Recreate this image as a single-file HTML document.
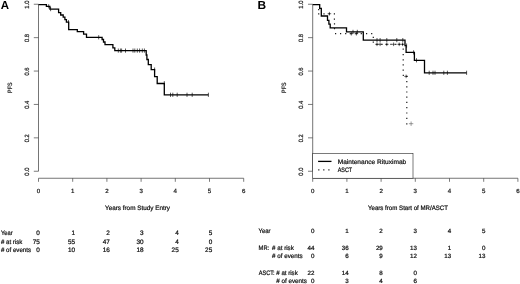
<!DOCTYPE html>
<html lang="en">
<head>
<meta charset="utf-8">
<title>PFS Kaplan-Meier curves</title>
<style>
html,body{margin:0;padding:0;background:#fff;}
body{width:520px;height:284px;overflow:hidden;}
svg{display:block;font-family:'Liberation Sans', sans-serif;text-rendering:geometricPrecision;}
</style>
</head>
<body>
<svg width="520" height="284" viewBox="0 0 520 284">
<rect width="520" height="284" fill="#fff"/>
<text x="0.7" y="8.9" font-size="11.6" textLength="8.3" lengthAdjust="spacingAndGlyphs" font-weight="bold" fill="#000">A</text>
<path d="M38.5,4.25V171.25" stroke="#3a3a3a" stroke-width="0.7" fill="none"/>
<path d="M33.80,171.25H38.5M33.80,137.85H38.5M33.80,104.45H38.5M33.80,71.05H38.5M33.80,37.65H38.5M33.80,4.25H38.5" stroke="#444" stroke-width="0.7" fill="none"/>
<path d="M38.5,178.25H243.70" stroke="#3a3a3a" stroke-width="0.7" fill="none"/>
<path d="M38.50,178.25V181.8M72.70,178.25V181.8M106.90,178.25V181.8M141.10,178.25V181.8M175.30,178.25V181.8M209.50,178.25V181.8M243.70,178.25V181.8" stroke="#444" stroke-width="0.7" fill="none"/>
<text x="28.7" y="171.65" font-size="6.2" text-anchor="middle" textLength="8" lengthAdjust="spacingAndGlyphs" transform="rotate(-90 28.7 171.65)" fill="#1a1a1a" stroke="#1a1a1a" stroke-width="0.22">0.0</text>
<text x="28.7" y="138.25" font-size="6.2" text-anchor="middle" textLength="8" lengthAdjust="spacingAndGlyphs" transform="rotate(-90 28.7 138.25)" fill="#1a1a1a" stroke="#1a1a1a" stroke-width="0.22">0.2</text>
<text x="28.7" y="104.85" font-size="6.2" text-anchor="middle" textLength="8" lengthAdjust="spacingAndGlyphs" transform="rotate(-90 28.7 104.85)" fill="#1a1a1a" stroke="#1a1a1a" stroke-width="0.22">0.4</text>
<text x="28.7" y="71.45" font-size="6.2" text-anchor="middle" textLength="8" lengthAdjust="spacingAndGlyphs" transform="rotate(-90 28.7 71.45)" fill="#1a1a1a" stroke="#1a1a1a" stroke-width="0.22">0.6</text>
<text x="28.7" y="38.05" font-size="6.2" text-anchor="middle" textLength="8" lengthAdjust="spacingAndGlyphs" transform="rotate(-90 28.7 38.05)" fill="#1a1a1a" stroke="#1a1a1a" stroke-width="0.22">0.8</text>
<text x="28.7" y="4.65" font-size="6.2" text-anchor="middle" textLength="8" lengthAdjust="spacingAndGlyphs" transform="rotate(-90 28.7 4.65)" fill="#1a1a1a" stroke="#1a1a1a" stroke-width="0.22">1.0</text>
<text x="38.5" y="192.9" font-size="6.1" text-anchor="middle" fill="#1a1a1a" stroke="#1a1a1a" stroke-width="0.22">0</text>
<text x="72.7" y="192.9" font-size="6.1" text-anchor="middle" fill="#1a1a1a" stroke="#1a1a1a" stroke-width="0.22">1</text>
<text x="106.9" y="192.9" font-size="6.1" text-anchor="middle" fill="#1a1a1a" stroke="#1a1a1a" stroke-width="0.22">2</text>
<text x="141.1" y="192.9" font-size="6.1" text-anchor="middle" fill="#1a1a1a" stroke="#1a1a1a" stroke-width="0.22">3</text>
<text x="175.3" y="192.9" font-size="6.1" text-anchor="middle" fill="#1a1a1a" stroke="#1a1a1a" stroke-width="0.22">4</text>
<text x="209.5" y="192.9" font-size="6.1" text-anchor="middle" fill="#1a1a1a" stroke="#1a1a1a" stroke-width="0.22">5</text>
<text x="243.7" y="192.9" font-size="6.1" text-anchor="middle" fill="#1a1a1a" stroke="#1a1a1a" stroke-width="0.22">6</text>
<text x="11.9" y="87.7" font-size="6.2" text-anchor="middle" textLength="10.5" lengthAdjust="spacingAndGlyphs" transform="rotate(-90 11.9 87.7)" fill="#222" stroke="#222" stroke-width="0.22">PFS</text>
<text x="105" y="209.7" font-size="6.4" textLength="65" lengthAdjust="spacingAndGlyphs" fill="#111" stroke="#111" stroke-width="0.22">Years from Study Entry</text>
<path d="M38.5,4.6H46.4V6.3H49.9V9.1H58.6V12.7H60.7V15H63.2V17.1H64.9V19.6H66.4V22.2H68.7V29.7H77.3V31.7H83.6V34.2H86.5V37.3H102.1V39.5H103.5V42H105V44.6H112.9V47.8H114.8V50.7H146.2V55H146.9V59.5H148.3V64.6H151.2V69.6H154.6V76.6H157.2V83.5H164.3V94.8H208.4" stroke="#000" stroke-width="1.3" fill="none" stroke-linejoin="miter"/>
<path d="M48.7,4.199999999999999V8.4M50.6,7.0V11.2M68.5,20.099999999999998V24.3M98.7,35.199999999999996V39.4M118.3,48.5V52.7M120.4,48.5V52.7M121.6,48.5V52.7M125.5,48.5V52.7M133,48.5V52.7M134.8,48.5V52.7M137.3,48.5V52.7M139.6,48.5V52.7M142.3,48.5V52.7M144.4,48.5V52.7M154.6,67.5V71.69999999999999M164.3,81.10000000000001V85.3M170.5,92.7V96.89999999999999M172.8,92.7V96.89999999999999M177.2,92.7V96.89999999999999M187,92.7V96.89999999999999M192.2,92.7V96.89999999999999M208.4,92.7V96.89999999999999" stroke="#000" stroke-width="0.65" fill="none"/>
<text x="1" y="235.1" font-size="6.4" textLength="11.7" lengthAdjust="spacingAndGlyphs" fill="#111" stroke="#111" stroke-width="0.22">Year</text>
<text x="39.9" y="235.1" font-size="6.4" text-anchor="end" fill="#111" stroke="#111" stroke-width="0.22">0</text>
<text x="75.1" y="235.1" font-size="6.4" text-anchor="end" fill="#111" stroke="#111" stroke-width="0.22">1</text>
<text x="109.8" y="235.1" font-size="6.4" text-anchor="end" fill="#111" stroke="#111" stroke-width="0.22">2</text>
<text x="143.6" y="235.1" font-size="6.4" text-anchor="end" fill="#111" stroke="#111" stroke-width="0.22">3</text>
<text x="178.7" y="235.1" font-size="6.4" text-anchor="end" fill="#111" stroke="#111" stroke-width="0.22">4</text>
<text x="212.2" y="235.1" font-size="6.4" text-anchor="end" fill="#111" stroke="#111" stroke-width="0.22">5</text>
<text x="1" y="243.8" font-size="6.4" textLength="21.2" lengthAdjust="spacingAndGlyphs" fill="#111" stroke="#111" stroke-width="0.22"># at risk</text>
<text x="39.9" y="243.8" font-size="6.4" text-anchor="end" fill="#111" stroke="#111" stroke-width="0.22">75</text>
<text x="75.1" y="243.8" font-size="6.4" text-anchor="end" fill="#111" stroke="#111" stroke-width="0.22">55</text>
<text x="109.8" y="243.8" font-size="6.4" text-anchor="end" fill="#111" stroke="#111" stroke-width="0.22">47</text>
<text x="143.6" y="243.8" font-size="6.4" text-anchor="end" fill="#111" stroke="#111" stroke-width="0.22">30</text>
<text x="178.7" y="243.8" font-size="6.4" text-anchor="end" fill="#111" stroke="#111" stroke-width="0.22">4</text>
<text x="212.2" y="243.8" font-size="6.4" text-anchor="end" fill="#111" stroke="#111" stroke-width="0.22">0</text>
<text x="1" y="252.2" font-size="6.4" textLength="30" lengthAdjust="spacingAndGlyphs" fill="#111" stroke="#111" stroke-width="0.22"># of events</text>
<text x="39.9" y="252.2" font-size="6.4" text-anchor="end" fill="#111" stroke="#111" stroke-width="0.22">0</text>
<text x="75.1" y="252.2" font-size="6.4" text-anchor="end" fill="#111" stroke="#111" stroke-width="0.22">10</text>
<text x="109.8" y="252.2" font-size="6.4" text-anchor="end" fill="#111" stroke="#111" stroke-width="0.22">16</text>
<text x="143.6" y="252.2" font-size="6.4" text-anchor="end" fill="#111" stroke="#111" stroke-width="0.22">18</text>
<text x="178.7" y="252.2" font-size="6.4" text-anchor="end" fill="#111" stroke="#111" stroke-width="0.22">25</text>
<text x="212.2" y="252.2" font-size="6.4" text-anchor="end" fill="#111" stroke="#111" stroke-width="0.22">25</text>
<text x="257.5" y="9.1" font-size="11.6" textLength="8.6" lengthAdjust="spacingAndGlyphs" font-weight="bold" fill="#000">B</text>
<path d="M312.7,4.25V171.25" stroke="#3a3a3a" stroke-width="0.7" fill="none"/>
<path d="M308.00,171.25H312.7M308.00,137.85H312.7M308.00,104.45H312.7M308.00,71.05H312.7M308.00,37.65H312.7M308.00,4.25H312.7" stroke="#444" stroke-width="0.7" fill="none"/>
<path d="M312.7,178.25H517.90" stroke="#3a3a3a" stroke-width="0.7" fill="none"/>
<path d="M312.70,178.25V181.8M346.90,178.25V181.8M381.10,178.25V181.8M415.30,178.25V181.8M449.50,178.25V181.8M483.70,178.25V181.8M517.90,178.25V181.8" stroke="#444" stroke-width="0.7" fill="none"/>
<text x="302.9" y="171.65" font-size="6.2" text-anchor="middle" textLength="8" lengthAdjust="spacingAndGlyphs" transform="rotate(-90 302.9 171.65)" fill="#1a1a1a" stroke="#1a1a1a" stroke-width="0.22">0.0</text>
<text x="302.9" y="138.25" font-size="6.2" text-anchor="middle" textLength="8" lengthAdjust="spacingAndGlyphs" transform="rotate(-90 302.9 138.25)" fill="#1a1a1a" stroke="#1a1a1a" stroke-width="0.22">0.2</text>
<text x="302.9" y="104.85" font-size="6.2" text-anchor="middle" textLength="8" lengthAdjust="spacingAndGlyphs" transform="rotate(-90 302.9 104.85)" fill="#1a1a1a" stroke="#1a1a1a" stroke-width="0.22">0.4</text>
<text x="302.9" y="71.45" font-size="6.2" text-anchor="middle" textLength="8" lengthAdjust="spacingAndGlyphs" transform="rotate(-90 302.9 71.45)" fill="#1a1a1a" stroke="#1a1a1a" stroke-width="0.22">0.6</text>
<text x="302.9" y="38.05" font-size="6.2" text-anchor="middle" textLength="8" lengthAdjust="spacingAndGlyphs" transform="rotate(-90 302.9 38.05)" fill="#1a1a1a" stroke="#1a1a1a" stroke-width="0.22">0.8</text>
<text x="302.9" y="4.65" font-size="6.2" text-anchor="middle" textLength="8" lengthAdjust="spacingAndGlyphs" transform="rotate(-90 302.9 4.65)" fill="#1a1a1a" stroke="#1a1a1a" stroke-width="0.22">1.0</text>
<text x="312.7" y="192.9" font-size="6.1" text-anchor="middle" fill="#1a1a1a" stroke="#1a1a1a" stroke-width="0.22">0</text>
<text x="346.9" y="192.9" font-size="6.1" text-anchor="middle" fill="#1a1a1a" stroke="#1a1a1a" stroke-width="0.22">1</text>
<text x="381.1" y="192.9" font-size="6.1" text-anchor="middle" fill="#1a1a1a" stroke="#1a1a1a" stroke-width="0.22">2</text>
<text x="415.3" y="192.9" font-size="6.1" text-anchor="middle" fill="#1a1a1a" stroke="#1a1a1a" stroke-width="0.22">3</text>
<text x="449.5" y="192.9" font-size="6.1" text-anchor="middle" fill="#1a1a1a" stroke="#1a1a1a" stroke-width="0.22">4</text>
<text x="483.7" y="192.9" font-size="6.1" text-anchor="middle" fill="#1a1a1a" stroke="#1a1a1a" stroke-width="0.22">5</text>
<text x="517.9" y="192.9" font-size="6.1" text-anchor="middle" fill="#1a1a1a" stroke="#1a1a1a" stroke-width="0.22">6</text>
<text x="286.1" y="87.7" font-size="6.2" text-anchor="middle" textLength="10.5" lengthAdjust="spacingAndGlyphs" transform="rotate(-90 286.1 87.7)" fill="#222" stroke="#222" stroke-width="0.22">PFS</text>
<text x="368" y="209.7" font-size="6.4" textLength="80" lengthAdjust="spacingAndGlyphs" fill="#111" stroke="#111" stroke-width="0.22">Years from Start of MR/ASCT</text>
<path d="M318.10,9.6h1.2M318.10,13.8h1.2M323.40,13.8h1.2M328.70,13.8h1.2M333.80,13.8h1.2M333.80,19.2h1.2M333.90,23.8h1.2M333.90,28.7h1.2M335.00,33.7h1.2M340.00,33.7h1.2M345.10,33.7h1.2M350.30,33.7h1.2M355.50,33.7h1.2M360.70,33.7h1.2M366.00,33.7h1.2M371.10,33.7h1.2M372.70,37.4h1.2M372.70,42.2h1.2M376.40,44.3h1.2M381.40,44.3h1.2M386.20,44.3h1.2M390.40,44.3h1.2M395.20,44.3h1.2M398.60,44.3h1.2M402.00,44.3h1.2M402.60,49.2h1.2M402.60,54.6h1.2M402.60,59.8h1.2M402.60,64.9h1.2M402.60,70.2h1.2M402.70,75.4h1.2M406.20,76.4h1.2M406.20,81.7h1.2M406.20,86.8h1.2M406.20,92h1.2M406.20,97.2h1.2M406.20,102.3h1.2M406.20,107.6h1.2M406.20,113h1.2M406.20,118.4h1.2M406.20,123.9h1.2" stroke="#1a1a1a" stroke-width="1.2" fill="none"/>
<path d="M329.4,11.899999999999999V15.5M327.59999999999997,13.7H331.2M351.3,31.900000000000002V35.5M349.5,33.7H353.1M356.4,31.900000000000002V35.5M354.59999999999997,33.7H358.2M377,42.5V46.099999999999994M375.2,44.3H378.8M380.1,42.5V46.099999999999994M378.3,44.3H381.90000000000003M386.8,42.5V46.099999999999994M385.0,44.3H388.6M393.6,42.5V46.099999999999994M391.8,44.3H395.40000000000003M399.2,42.5V46.099999999999994M397.4,44.3H401.0M402.6,42.5V46.099999999999994M400.8,44.3H404.40000000000003M406.1,74.60000000000001V78.2M404.3,76.4H407.90000000000003" stroke="#000" stroke-width="0.6" fill="none"/>
<path d="M411.1,121.5V125.9M408.90000000000003,123.7H413.3" stroke="#666" stroke-width="0.65" fill="none"/>
<path d="M312.7,4.6H319.7V8.3H321.3V16H327.5V20.3H328.9V24.1H330.2V27.9H346.5V31.9H363.3V40.1H405V45.6H406.1V52.4H414.4V60.3H424.5V72.8H466.6" stroke="#000" stroke-width="1.3" fill="none"/>
<path d="M353,29.799999999999997V34.0M357.3,29.799999999999997V34.0M377,38.0V42.2M380.1,38.0V42.2M386.8,38.0V42.2M396.8,38.0V42.2M402.8,38.0V42.2M406.6,43.5V47.7M413.6,50.3V54.5M416.5,58.199999999999996V62.4M429.2,70.7V74.89999999999999M433,70.7V74.89999999999999M435,70.7V74.89999999999999M443.8,70.7V74.89999999999999M447.4,70.7V74.89999999999999M466.6,70.7V74.89999999999999" stroke="#000" stroke-width="0.65" fill="none"/>
<rect x="312.7" y="153.3" width="100.3" height="24.95" fill="#fff" stroke="#222" stroke-width="0.6"/>
<path d="M318.1,161.4H331.5" stroke="#000" stroke-width="1.3"/>
<path d="M318.20,169.8h1.2M323.20,169.8h1.2M328.30,169.8h1.2" stroke="#1a1a1a" stroke-width="1.2" fill="none"/>
<text x="337.7" y="163.8" font-size="6.4" textLength="68.5" lengthAdjust="spacingAndGlyphs" fill="#111" stroke="#111" stroke-width="0.22">Maintenance Rituximab</text>
<text x="337.7" y="172.1" font-size="6.4" textLength="14.5" lengthAdjust="spacingAndGlyphs" fill="#111" stroke="#111" stroke-width="0.22">ASCT</text>
<text x="258.6" y="232.8" font-size="6.4" textLength="12" lengthAdjust="spacingAndGlyphs" fill="#111" stroke="#111" stroke-width="0.22">Year</text>
<text x="258.6" y="249.8" font-size="6.4" textLength="10.6" lengthAdjust="spacingAndGlyphs" fill="#111" stroke="#111" stroke-width="0.22">MR:</text>
<text x="272.1" y="249.8" font-size="6.4" textLength="21.7" lengthAdjust="spacingAndGlyphs" fill="#111" stroke="#111" stroke-width="0.22"># at risk</text>
<text x="272.1" y="258.4" font-size="6.4" textLength="30.5" lengthAdjust="spacingAndGlyphs" fill="#111" stroke="#111" stroke-width="0.22"># of events</text>
<text x="258.7" y="274.7" font-size="6.4" textLength="16" lengthAdjust="spacingAndGlyphs" fill="#111" stroke="#111" stroke-width="0.22">ASCT:</text>
<text x="276.3" y="274.7" font-size="6.4" textLength="21.4" lengthAdjust="spacingAndGlyphs" fill="#111" stroke="#111" stroke-width="0.22"># at risk</text>
<text x="276.3" y="282.7" font-size="6.4" textLength="30.5" lengthAdjust="spacingAndGlyphs" fill="#111" stroke="#111" stroke-width="0.22"># of events</text>
<text x="314.4" y="232.8" font-size="6.2" text-anchor="end" fill="#111" stroke="#111" stroke-width="0.22">0</text>
<text x="348.6" y="232.8" font-size="6.2" text-anchor="end" fill="#111" stroke="#111" stroke-width="0.22">1</text>
<text x="382.8" y="232.8" font-size="6.2" text-anchor="end" fill="#111" stroke="#111" stroke-width="0.22">2</text>
<text x="417.0" y="232.8" font-size="6.2" text-anchor="end" fill="#111" stroke="#111" stroke-width="0.22">3</text>
<text x="451.2" y="232.8" font-size="6.2" text-anchor="end" fill="#111" stroke="#111" stroke-width="0.22">4</text>
<text x="485.4" y="232.8" font-size="6.2" text-anchor="end" fill="#111" stroke="#111" stroke-width="0.22">5</text>
<text x="314.4" y="249.8" font-size="6.2" text-anchor="end" fill="#111" stroke="#111" stroke-width="0.22">44</text>
<text x="348.6" y="249.8" font-size="6.2" text-anchor="end" fill="#111" stroke="#111" stroke-width="0.22">36</text>
<text x="382.8" y="249.8" font-size="6.2" text-anchor="end" fill="#111" stroke="#111" stroke-width="0.22">29</text>
<text x="417.0" y="249.8" font-size="6.2" text-anchor="end" fill="#111" stroke="#111" stroke-width="0.22">13</text>
<text x="451.2" y="249.8" font-size="6.2" text-anchor="end" fill="#111" stroke="#111" stroke-width="0.22">1</text>
<text x="485.4" y="249.8" font-size="6.2" text-anchor="end" fill="#111" stroke="#111" stroke-width="0.22">0</text>
<text x="314.4" y="258.4" font-size="6.2" text-anchor="end" fill="#111" stroke="#111" stroke-width="0.22">0</text>
<text x="348.6" y="258.4" font-size="6.2" text-anchor="end" fill="#111" stroke="#111" stroke-width="0.22">6</text>
<text x="382.8" y="258.4" font-size="6.2" text-anchor="end" fill="#111" stroke="#111" stroke-width="0.22">9</text>
<text x="417.0" y="258.4" font-size="6.2" text-anchor="end" fill="#111" stroke="#111" stroke-width="0.22">12</text>
<text x="451.2" y="258.4" font-size="6.2" text-anchor="end" fill="#111" stroke="#111" stroke-width="0.22">13</text>
<text x="485.4" y="258.4" font-size="6.2" text-anchor="end" fill="#111" stroke="#111" stroke-width="0.22">13</text>
<text x="314.4" y="274.7" font-size="6.2" text-anchor="end" fill="#111" stroke="#111" stroke-width="0.22">22</text>
<text x="348.6" y="274.7" font-size="6.2" text-anchor="end" fill="#111" stroke="#111" stroke-width="0.22">14</text>
<text x="382.8" y="274.7" font-size="6.2" text-anchor="end" fill="#111" stroke="#111" stroke-width="0.22">8</text>
<text x="417.0" y="274.7" font-size="6.2" text-anchor="end" fill="#111" stroke="#111" stroke-width="0.22">0</text>
<text x="314.4" y="282.7" font-size="6.2" text-anchor="end" fill="#111" stroke="#111" stroke-width="0.22">0</text>
<text x="348.6" y="282.7" font-size="6.2" text-anchor="end" fill="#111" stroke="#111" stroke-width="0.22">3</text>
<text x="382.8" y="282.7" font-size="6.2" text-anchor="end" fill="#111" stroke="#111" stroke-width="0.22">4</text>
<text x="417.0" y="282.7" font-size="6.2" text-anchor="end" fill="#111" stroke="#111" stroke-width="0.22">6</text>
</svg>
</body>
</html>
